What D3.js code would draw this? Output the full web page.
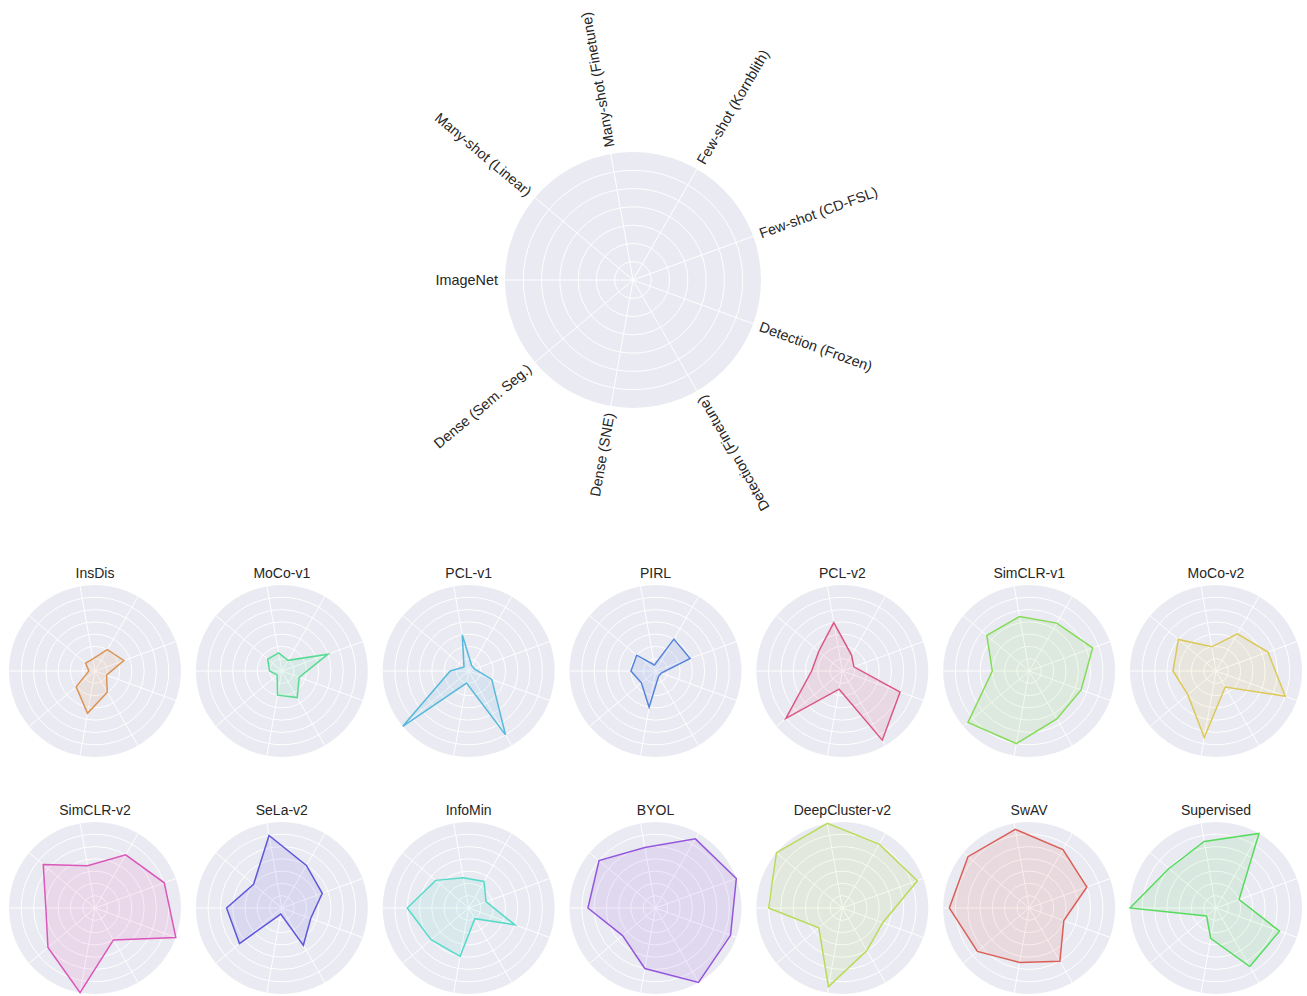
<!DOCTYPE html>
<html>
<head>
<meta charset="utf-8">
<script src="https://cdn.jsdelivr.net/npm/d3@7"></script>
<style>
  body { margin: 0; background: #ffffff; }
  svg text { font-family: "Liberation Sans", Arial, Helvetica, sans-serif; fill: #262626; }
</style>
</head>
<body>
<svg id="chart" width="1307" height="996"></svg>
<script>
// Benchmark axes, in drawing order (counter-clockwise from the left).
const axisLabels = [
  "ImageNet", "Many-shot (Linear)", "Many-shot (Finetune)",
  "Few-shot (Kornblith)", "Few-shot (CD-FSL)", "Detection (Frozen)",
  "Detection (Finetune)", "Dense (SNE)", "Dense (Sem. Seg.)"
];

// Methods, one small radar each.
const methods = [
  "InsDis", "MoCo-v1", "PCL-v1", "PIRL", "PCL-v2", "SimCLR-v1", "MoCo-v2",
  "SimCLR-v2", "SeLa-v2", "InfoMin", "BYOL", "DeepCluster-v2", "SwAV", "Supervised"
];

// Per-benchmark scores (same order as methods).
const imageNet          = [0.5, 1.0, 1.5, 2.0, 2.5, 3.0, 3.5, 4.0, 4.5, 5.0, 5.5, 6.0, 6.5, 7.0];
const manyShotLinear    = [1.0, 1.5, 0.5, 2.0, 2.5, 4.5, 4.0, 5.5, 3.0, 3.5, 6.0, 7.0, 6.5, 5.0];
const manyShotFinetune  = [1.0, 1.5, 3.0, 0.5, 4.0, 4.5, 2.0, 3.5, 6.0, 2.5, 5.0, 7.0, 6.5, 5.5];
const fewShotKornblith  = [2.0, 1.0, 0.5, 3.0, 1.5, 4.5, 3.5, 5.0, 4.0, 2.5, 6.5, 6.0, 5.5, 7.0];
const fewShotCDFSL      = [2.5, 4.0, 0.5, 3.0, 1.0, 5.5, 4.5, 6.0, 3.5, 1.5, 7.0, 6.5, 5.0, 2.0];
const detectionFrozen   = [1.0, 1.5, 2.0, 0.5, 5.0, 4.5, 6.0, 7.0, 2.5, 4.0, 6.5, 3.5, 3.0, 5.5];
const detectionFinetune = [2.0, 2.5, 6.0, 0.5, 6.5, 4.5, 1.5, 3.0, 3.5, 1.0, 7.0, 4.0, 5.0, 5.5];
const denseSNE          = [3.5, 2.0, 1.0, 3.0, 1.5, 6.0, 5.5, 7.0, 0.5, 4.0, 5.0, 6.5, 4.5, 2.5];
const denseSemSeg       = [2.0, 0.5, 7.0, 1.5, 6.0, 6.5, 3.0, 5.0, 4.5, 4.0, 3.5, 2.5, 5.5, 1.0];

const scoreColumns = [imageNet, manyShotLinear, manyShotFinetune, fewShotKornblith,
  fewShotCDFSL, detectionFrozen, detectionFinetune, denseSNE, denseSemSeg];

// Slot of each method in a 15-step HLS hue wheel.
const hueSlot = [1, 6, 8, 9, 14, 4, 2, 13, 10, 7, 11, 3, 0, 5];
const palette = hueSlot.map(k => d3.hsl((0.01 + k / 15) * 360, 0.65, 0.6).formatHex());

const rMax = 7;          // outer edge of every radar
const ringCount = 6;     // grid circles inside the edge

const svg = d3.select("#chart");
const nAxes = axisLabels.length;

// d3 radial angle: 0 at 12 o'clock, clockwise. First axis points left.
const angle = d3.scaleLinear().domain([0, nAxes]).range([-Math.PI / 2, 1.5 * Math.PI]);

function drawGrid(g, R) {
  const r = d3.scaleLinear().domain([0, rMax]).range([0, R]);
  g.append("circle").attr("r", R).attr("fill", "#eaeaf2");
  g.selectAll("circle.ring").data(d3.range(1, ringCount + 1)).join("circle")
    .attr("class", "ring").attr("r", d => r(d))
    .attr("fill", "none").attr("stroke", "#ffffff").attr("stroke-width", 1);
  g.selectAll("line.spoke").data(d3.range(nAxes)).join("line")
    .attr("class", "spoke")
    .attr("x1", 0).attr("y1", 0)
    .attr("x2", i => R * Math.sin(angle(i)))
    .attr("y2", i => -R * Math.cos(angle(i)))
    .attr("stroke", "#ffffff").attr("stroke-width", 1);
  return r;
}

// ---- Overview radar with axis names ----
const overviewR = 128;
const overview = svg.append("g").attr("transform", "translate(633,280)");
drawGrid(overview, overviewR);

const labelRadius = overviewR + 7;
overview.selectAll("text.axis-label").data(axisLabels).join("text")
  .attr("class", "axis-label")
  .attr("font-size", "14.4px")
  .attr("dominant-baseline", "central")
  .each(function (label, i) {
    const a = angle(i);
    const x = labelRadius * Math.sin(a);
    const y = -labelRadius * Math.cos(a);
    // math-convention direction of the spoke, in degrees [0, 360)
    let deg = (90 - a * 180 / Math.PI) % 360;
    if (deg < 0) deg += 360;
    const inward = deg >= 110 && deg <= 310;
    const ccw = inward ? deg - 180 : (deg > 180 ? deg - 360 : deg);
    d3.select(this)
      .attr("text-anchor", inward ? "end" : "start")
      .attr("transform", `translate(${x},${y}) rotate(${-ccw})`)
      .text(label);
  });

// ---- Small multiples, one per method ----
const colX = d3.scaleLinear().domain([0, 6]).range([95, 1216]);
const rowY = [671, 908];
const titleY = [573, 810];
const smallR = 86;

methods.forEach((name, m) => {
  const col = m % 7, row = Math.floor(m / 7);
  const g = svg.append("g").attr("transform", `translate(${colX(col)},${rowY[row]})`);
  const r = drawGrid(g, smallR);

  const values = scoreColumns.map(c => c[m]);
  const shape = d3.lineRadial()
    .angle((d, i) => angle(i))
    .radius(d => r(d))
    .curve(d3.curveLinearClosed);

  g.append("path").datum(values)
    .attr("d", shape)
    .attr("fill", palette[m]).attr("fill-opacity", 0.12)
    .attr("stroke", palette[m]).attr("stroke-width", 1.5)
    .attr("stroke-linejoin", "miter");

  svg.append("text")
    .attr("x", colX(col)).attr("y", titleY[row])
    .attr("text-anchor", "middle").attr("dominant-baseline", "central")
    .attr("font-size", "14px")
    .text(name);
});
</script>
</body>
</html>
